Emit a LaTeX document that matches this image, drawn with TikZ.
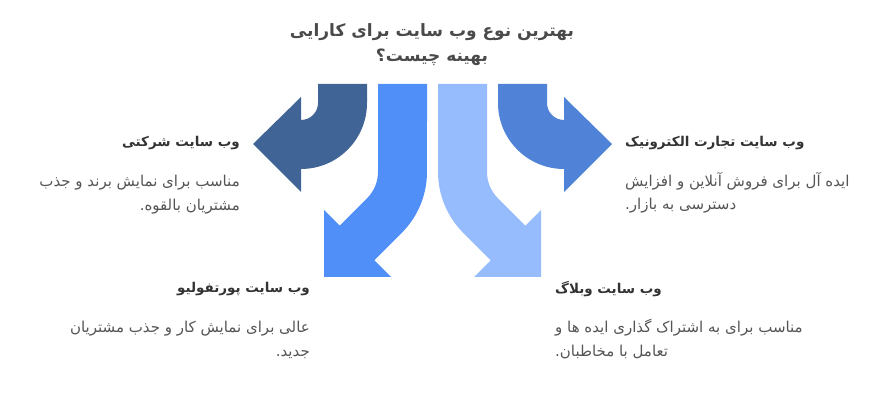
\documentclass[tikz,border=0pt]{standalone}
\usepackage{fontspec}
\newfontfamily\arabicfont[Script=Arabic]{DejaVu Sans}
\TeXXeTstate=1
\usetikzlibrary{positioning}
\definecolor{darkblue}{HTML}{416496}
\definecolor{midblue}{HTML}{4F8FF7}
\definecolor{lightblue}{HTML}{96BCFD}
\definecolor{sideblue}{HTML}{5083D8}
\definecolor{titlegray}{HTML}{4A4A4A}
\definecolor{headgray}{HTML}{333333}
\definecolor{bodygray}{HTML}{555555}
\newcommand{\fatext}[1]{\beginR #1\endR}
\tikzset{
  titletext/.style={font=\arabicfont\bfseries\fontsize{17}{25}\selectfont, text=titlegray, align=center, inner sep=0pt},
  headtext/.style={font=\arabicfont\bfseries\fontsize{13.5}{16}\selectfont, text=headgray, inner sep=0pt},
  bodytext/.style={font=\arabicfont\fontsize{15}{23.5}\selectfont, text=bodygray, inner sep=0pt}
}

\begin{document}
\begin{tikzpicture}[x=1pt, y=1pt]
  \useasboundingbox (0,0) rectangle (889,409);

  % bent arrows, left and right
  \fill[darkblue] (318,325) -- (318,306) arc[start angle=0, end angle=-90, radius=17]
    -- (301,312) -- (253,265) -- (301,217) -- (301,240)
    arc[start angle=-90, end angle=0, radius=66] -- (367,325) -- cycle;
  \begin{scope}[shift={(865,0)}, xscale=-1]
    \fill[sideblue] (318,325) -- (318,306) arc[start angle=0, end angle=-90, radius=17]
      -- (301,312) -- (253,265) -- (301,217) -- (301,240)
      arc[start angle=-90, end angle=0, radius=66] -- (367,325) -- cycle;
  \end{scope}

  % curved arrows, middle
  \fill[midblue] (378,325) -- (378,237) arc[start angle=0, end angle=-45, radius=37]
    -- (339.7,183.3) -- (324,199) -- (324,132) -- (391,132) -- (374.3,148.7)
    -- (401.8,176.2) arc[start angle=-45, end angle=0, radius=86] -- (427,325) -- cycle;
  \begin{scope}[shift={(865,0)}, xscale=-1]
    \fill[lightblue] (378,325) -- (378,237) arc[start angle=0, end angle=-45, radius=37]
      -- (339.7,183.3) -- (324,199) -- (324,132) -- (391,132) -- (374.3,148.7)
      -- (401.8,176.2) arc[start angle=-45, end angle=0, radius=86] -- (427,325) -- cycle;
  \end{scope}

  \node[titletext] (title) at (432,364.5) {\fatext{بهترین نوع وب سایت برای کارایی}\\\fatext{بهینه چیست؟}};

  \node[headtext, anchor=east] (corp) at (240,266) {\fatext{وب سایت شرکتی}};
  \node[bodytext, align=right, below=25pt of corp.south east, anchor=north east] (corpbody)
    {\fatext{مناسب برای نمایش برند و جذب}\\\fatext{مشتریان بالقوه.}};

  \node[headtext, anchor=west] (shop) at (625,266) {\fatext{وب سایت تجارت الکترونیک}};
  \node[bodytext, align=left, below=22pt of shop.south west, anchor=north west] (shopbody)
    {\fatext{ایده آل برای فروش آنلاین و افزایش}\\\fatext{دسترسی به بازار.}};

  \node[headtext, anchor=east] (folio) at (310,120) {\fatext{وب سایت پورتفولیو}};
  \node[bodytext, align=right, below=25pt of folio.south east, anchor=north east] (foliobody)
    {\fatext{عالی برای نمایش کار و جذب مشتریان}\\\fatext{جدید.}};

  \node[headtext, anchor=west] (blog) at (555,120) {\fatext{وب سایت وبلاگ}};
  \node[bodytext, align=left, below=22pt of blog.south west, anchor=north west] (blogbody)
    {\fatext{مناسب برای به اشتراک گذاری ایده ها و}\\\fatext{تعامل با مخاطبان.}};
\end{tikzpicture}
\end{document}
